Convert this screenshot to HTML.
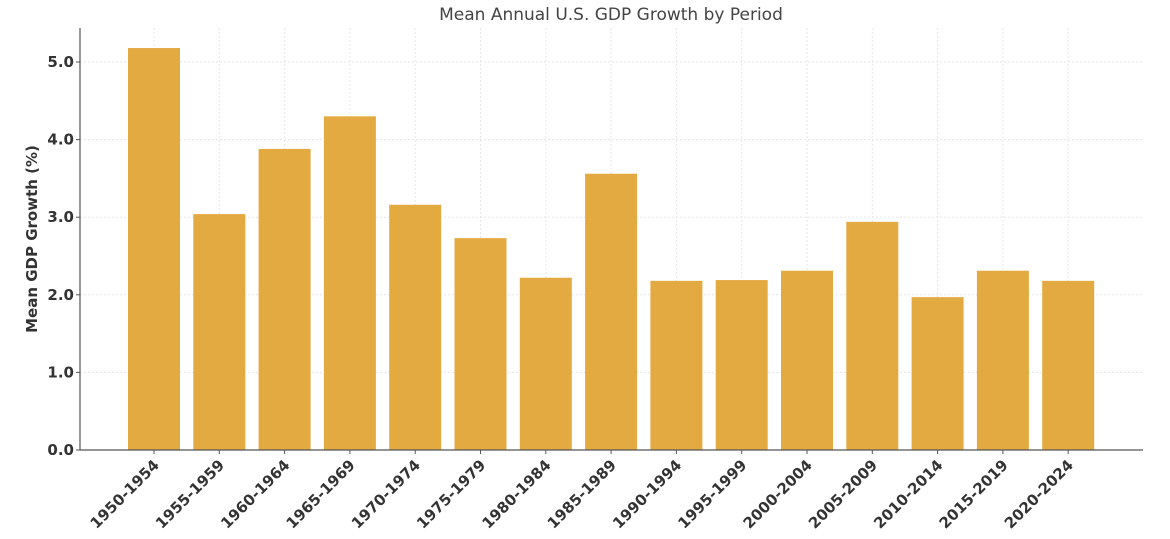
<!DOCTYPE html>
<html><head><meta charset="utf-8"><style>
body{margin:0;background:#fff;font-family:"DejaVu Sans","Liberation Sans",sans-serif;}
</style></head><body>
<svg id="chart" width="1170" height="535" xmlns="http://www.w3.org/2000/svg"></svg>
<script>
const categories=["1950-1954","1955-1959","1960-1964","1965-1969","1970-1974","1975-1979","1980-1984","1985-1989","1990-1994","1995-1999","2000-2004","2005-2009","2010-2014","2015-2019","2020-2024"];
const values=[5.18,3.04,3.88,4.30,3.16,2.73,2.22,3.56,2.18,2.19,2.31,2.94,1.97,2.31,2.18];
const yTicks=[0,1,2,3,4,5];
const yTickLabels=["0.0","1.0","2.0","3.0","4.0","5.0"];
const NS="http://www.w3.org/2000/svg";
const svgEl=document.getElementById('chart');
const plotLeft=80,plotRight=1143,baseY=450,pxPerUnit=77.6,plotTop=28;
const firstX=154,step=65.3,barW=52;
const xs=i=>firstX+i*step;
const ys=v=>baseY-v*pxPerUnit;
function mk(t,a,p){const e=document.createElementNS(NS,t);for(const k in a)e.setAttribute(k,a[k]);(p||svgEl).appendChild(e);return e;}
const grid=mk('g',{});


yTicks.forEach(v=>{mk('line',{x1:plotLeft,x2:plotRight,y1:ys(v),y2:ys(v),stroke:'#e6e6e6','stroke-width':1,'stroke-dasharray':'2,2'},grid);});
categories.forEach((c,i)=>{mk('line',{x1:xs(i),x2:xs(i),y1:plotTop,y2:baseY,stroke:'#e6e6e6','stroke-width':1,'stroke-dasharray':'2,2'},grid);});
values.forEach((v,i)=>{
 const r=mk('rect',{x:xs(i)-barW/2,y:ys(v),width:barW,height:v*pxPerUnit,fill:'#E4AA42'});
 
 
});
const ax=mk('g',{});


mk('line',{x1:plotLeft,x2:plotLeft,y1:plotTop,y2:baseY,stroke:'#555','stroke-width':1.2},ax);
mk('line',{x1:plotLeft,x2:plotRight,y1:baseY,y2:baseY,stroke:'#555','stroke-width':1.2},ax);
yTicks.forEach((v,i)=>{
 mk('line',{x1:plotLeft-4,x2:plotLeft,y1:ys(v),y2:ys(v),stroke:'#555'},ax);
 const t=mk('text',{x:plotLeft-6,y:ys(v)+5,'text-anchor':'end','font-size':15,'font-weight':'bold',fill:'#333'},ax);
 t.textContent=yTickLabels[i];
 
 
});
categories.forEach((c,i)=>{
 mk('line',{x1:xs(i),x2:xs(i),y1:baseY,y2:baseY+4,stroke:'#555'},ax);
 const ax0=xs(i)+6, ay0=baseY+16;
 const t=mk('text',{x:ax0,y:ay0,'text-anchor':'end','font-size':15,'font-weight':'bold',fill:'#333',transform:`rotate(-45 ${ax0} ${ay0})`},ax);
 t.textContent=c;
 
 
});
const yt=mk('text',{x:37,y:239,'text-anchor':'middle','font-size':15,'font-weight':'bold',fill:'#333',transform:'rotate(-90 37 239)'});
yt.textContent='Mean GDP Growth (%)';


const tt=mk('text',{x:611,y:20,'text-anchor':'middle','font-size':17,fill:'#444'});
tt.textContent='Mean Annual U.S. GDP Growth by Period';


</script>
</body></html>
